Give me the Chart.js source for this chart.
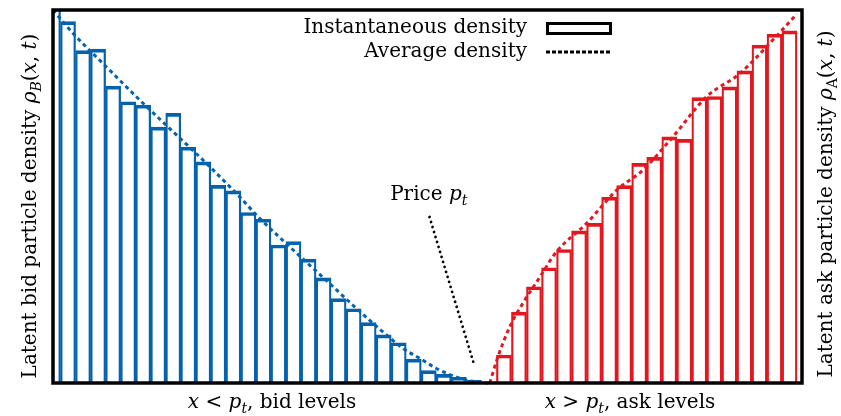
<!DOCTYPE html>
<html>
<head>
<meta charset="utf-8">
<script src="https://cdn.jsdelivr.net/npm/chart.js@4.4.0/dist/chart.umd.min.js"></script>
<style>
  html, body { margin: 0; padding: 0; background: #fff; }
  #wrap { width: 841px; height: 416px; }
</style>
</head>
<body>
<div id="wrap"><canvas id="graficoDensidade"></canvas></div>
<script>
// Níveis de preço (posição 29 = preço p_t)
const bidLevels = [0, 1, 2, 3, 4, 5, 6, 7, 8, 9, 10, 11, 12, 13, 14, 15, 16, 17, 18, 19, 20, 21, 22, 23, 24, 25, 26, 27, 28];
const bidHeights = [103, 96.9, 89.1, 89.5, 79.6, 75.4, 74.5, 68.6, 72.3, 63.2, 59.3, 53.0, 51.5, 45.7, 43.9, 37.0, 37.9, 33.2, 28.2, 22.6, 19.9, 16.2, 12.9, 10.8, 6.4, 3.3, 2.3, 1.5, 0.8];
const askLevels = [30, 31, 32, 33, 34, 35, 36, 37, 38, 39, 40, 41, 42, 43, 44, 45, 46, 47, 48, 49];
const askHeights = [7.5, 19.0, 25.8, 30.9, 35.8, 40.8, 42.8, 49.8, 52.9, 58.9, 60.5, 66.0, 65.3, 76.5, 76.8, 79.4, 83.7, 90.6, 93.5, 94.4];

// Densidade média (linhas tracejadas)
const bidAvgX = [0, 1.32, 3.54, 5.76, 7.98, 10.2, 12.42, 13.64, 15.86, 18.08, 20.29, 22.18, 23.27, 24.4, 25.51, 26.62, 27.73, 28.93];
const bidAvgY = [100, 93.8, 84.8, 75.9, 67.4, 58.9, 49.9, 44.6, 36.1, 27.9, 19.6, 12.9, 9.3, 6.6, 3.9, 1.9, 0.6, 0];
const askAvgX = [29.06, 29.53, 30.39, 31.26, 32.39, 33.5, 35.5, 37.5, 39.25, 41.24, 43.49, 45.7, 47.9, 49.48];
const askAvgY = [0, 6.2, 15.1, 21.4, 28.4, 35.2, 42.8, 51.7, 57.1, 66.0, 76.8, 83.0, 92.0, 98.9];

// Anotação do preço (em coordenadas de dados)
const priceLabelAt = [25.0, 49.0];
const priceArrow = [[25.05, 44.5], [28.04, 4.6]];

const legendLabels = ['Instantaneous density', 'Average density'];

// Cores
const corAzul = '#0562ad';
const corVermelha = '#e3181f';
const serif = '"DejaVu Serif", serif';
const tamanho = 20;

function fonte(p, size) {
    const s = p.sub ? Math.round(size * 0.7) : size;
    return (p.i ? 'italic ' : '') + s + 'px ' + serif;
}

function textoRico(ctx, partes, x, y, size, align, angle) {
    ctx.save();
    ctx.translate(x, y);
    if (angle) ctx.rotate(angle);
    ctx.textAlign = 'left';
    ctx.textBaseline = 'alphabetic';
    ctx.fillStyle = '#000';
    let w = 0;
    partes.forEach(p => { ctx.font = fonte(p, size); w += ctx.measureText(p.t).width; });
    let cx = align === 'center' ? -w / 2 : (align === 'right' ? -w : 0);
    partes.forEach(p => {
        ctx.font = fonte(p, size);
        ctx.fillText(p.t, cx, p.sub ? size * 0.25 : 0);
        cx += ctx.measureText(p.t).width;
    });
    ctx.restore();
}

const moldura = {
    id: 'moldura',
    afterDraw(chart) {
        const { ctx, chartArea: a, scales } = chart;
        ctx.save();

        // anotação "Price p_t"
        const x0 = scales.x.getPixelForValue(priceArrow[0][0]);
        const y0 = scales.y.getPixelForValue(priceArrow[0][1]);
        const x1 = scales.x.getPixelForValue(priceArrow[1][0]);
        const y1 = scales.y.getPixelForValue(priceArrow[1][1]);
        ctx.strokeStyle = '#000';
        ctx.lineWidth = 2.8;
        ctx.lineCap = 'round';
        ctx.setLineDash([0.01, 5.2]);
        ctx.beginPath();
        ctx.moveTo(x0, y0);
        ctx.lineTo(x1, y1);
        ctx.stroke();
        ctx.setLineDash([]);
        ctx.lineCap = 'butt';
        textoRico(ctx, [{ t: 'Price ' }, { t: 'p', i: true }, { t: 't', i: true, sub: true }],
            scales.x.getPixelForValue(priceLabelAt[0]), scales.y.getPixelForValue(priceLabelAt[1]), tamanho, 'center');

        // legenda
        textoRico(ctx, [{ t: legendLabels[0] }], 527, 33, tamanho, 'right');
        textoRico(ctx, [{ t: legendLabels[1] }], 527, 57, tamanho, 'right');
        ctx.strokeStyle = '#000';
        ctx.lineWidth = 3;
        ctx.strokeRect(547.5, 23.5, 63, 10);
        ctx.setLineDash([4, 2]);
        ctx.beginPath();
        ctx.moveTo(546, 52);
        ctx.lineTo(611, 52);
        ctx.stroke();
        ctx.setLineDash([]);

        // moldura
        ctx.lineWidth = 3.5;
        ctx.strokeRect(a.left, a.top, a.right - a.left, a.bottom - a.top);

        // títulos
        textoRico(ctx, [{ t: 'Latent bid particle density ' }, { t: 'ρ', i: true }, { t: 'B', i: true, sub: true },
            { t: '(' }, { t: 'x', i: true }, { t: ', ' }, { t: 't', i: true }, { t: ')' }],
            36, 206, tamanho, 'center', -Math.PI / 2);
        textoRico(ctx, [{ t: 'Latent ask particle density ' }, { t: 'ρ', i: true }, { t: 'A', sub: true },
            { t: '(' }, { t: 'x', i: true }, { t: ', ' }, { t: 't', i: true }, { t: ')' }],
            832, 204, tamanho, 'center', -Math.PI / 2);
        textoRico(ctx, [{ t: 'x', i: true }, { t: ' < ' }, { t: 'p', i: true }, { t: 't', i: true, sub: true }, { t: ', bid levels' }],
            272, 408, tamanho, 'center');
        textoRico(ctx, [{ t: 'x', i: true }, { t: ' > ' }, { t: 'p', i: true }, { t: 't', i: true, sub: true }, { t: ', ask levels' }],
            630, 408, tamanho, 'center');
        ctx.restore();
    }
};

document.addEventListener('DOMContentLoaded', () => {
    const ctx = document.getElementById('graficoDensidade');
    const barras = (levels, heights, cor) => ({
        type: 'bar',
        data: levels.map((x, i) => ({ x: x, y: heights[i] })),
        backgroundColor: 'rgba(255,255,255,0)',
        borderColor: cor,
        borderWidth: { top: 3, left: 1.6, right: 1.6, bottom: 0 },
        barPercentage: 1,
        categoryPercentage: 1,
        grouped: false,
        clip: 0,
        order: 2
    });
    const media = (xs, ys, cor) => ({
        type: 'line',
        data: xs.map((x, i) => ({ x: x, y: ys[i] })),
        borderColor: cor,
        borderWidth: 3,
        borderDash: [4, 3.5],
        pointRadius: 0,
        fill: false,
        cubicInterpolationMode: 'monotone',
        clip: 2,
        order: 1
    });

    new Chart(ctx, {
        type: 'bar',
        data: {
            datasets: [
                barras(bidLevels, bidHeights, corAzul),
                barras(askLevels, askHeights, corVermelha),
                media(bidAvgX, bidAvgY, corAzul),
                media(askAvgX, askAvgY, corVermelha)
            ]
        },
        options: {
            responsive: true,
            maintainAspectRatio: false,
            animation: false,
            layout: { padding: { left: 53, right: 39, top: 10, bottom: 33 } },
            scales: {
                x: { type: 'linear', min: 0, max: 49.83, offset: false, display: false },
                y: { min: 0, max: 100, display: false }
            },
            plugins: {
                legend: { display: false },
                tooltip: { enabled: false }
            }
        },
        plugins: [moldura]
    });
});
</script>
</body>
</html>
